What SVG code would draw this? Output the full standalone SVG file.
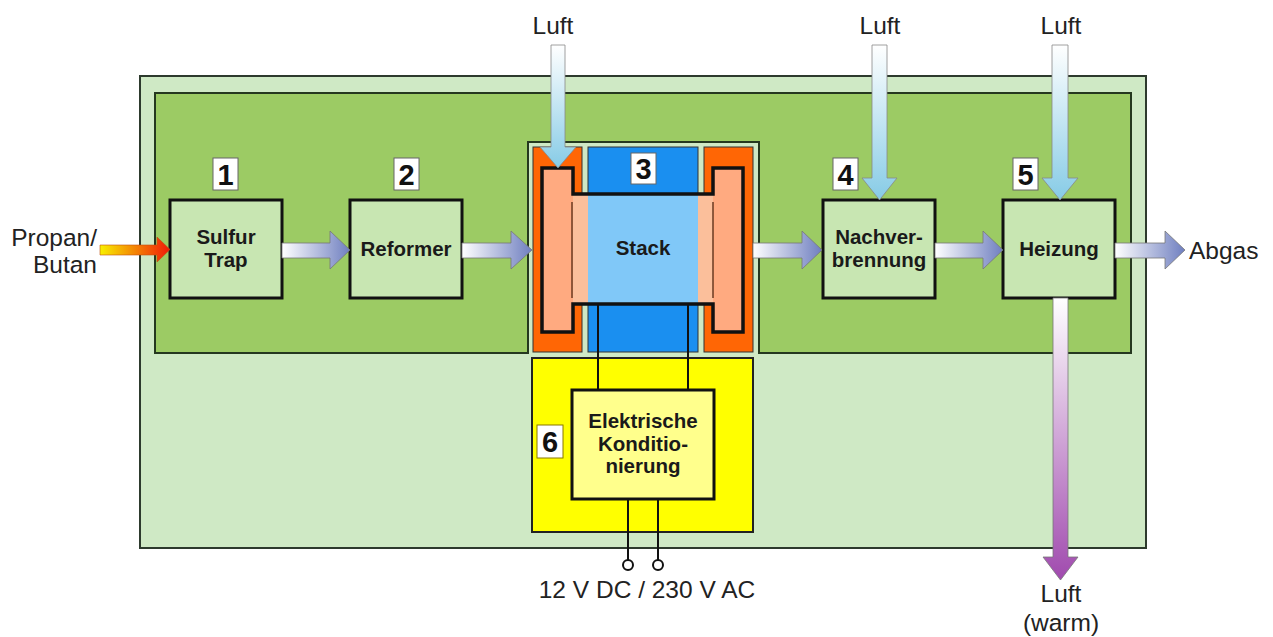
<svg xmlns="http://www.w3.org/2000/svg" width="1273" height="637" viewBox="0 0 1273 637">
<defs>
  <linearGradient id="gH" x1="0" y1="0" x2="1" y2="0">
    <stop offset="0" stop-color="#ffffff"/>
    <stop offset="1" stop-color="#6f7fc0"/>
  </linearGradient>
  <linearGradient id="gFuel" x1="0" y1="0" x2="1" y2="0">
    <stop offset="0" stop-color="#f8f000"/>
    <stop offset="1" stop-color="#f01808"/>
  </linearGradient>
  <linearGradient id="gAir" x1="0" y1="0" x2="0" y2="1">
    <stop offset="0" stop-color="#ffffff"/>
    <stop offset="1" stop-color="#86cbe6"/>
  </linearGradient>
  <linearGradient id="gWarm" x1="0" y1="0" x2="0" y2="1">
    <stop offset="0" stop-color="#ffffff"/>
    <stop offset="1" stop-color="#a04aae"/>
  </linearGradient>
  <style>
    .lbl{font-family:"Liberation Sans",Arial,sans-serif;font-size:24.5px;fill:#222}
    .bt{font-family:"Liberation Sans",Arial,sans-serif;font-size:20.5px;font-weight:bold;fill:#1a1a1a;text-anchor:middle}
    .num{font-family:"Liberation Sans",Arial,sans-serif;font-size:29px;font-weight:bold;fill:#111;text-anchor:middle}
    .nbox{fill:#ffffff;stroke:#666;stroke-width:1}
    .box{fill:#c8e6b2;stroke:#111;stroke-width:3}
    .arrH{fill:url(#gH);stroke:#777;stroke-width:0.8}
    .arrA{fill:url(#gAir);stroke:#888;stroke-width:0.8}
    .wire{stroke:#111;stroke-width:2;fill:none}
  </style>
</defs>

<g id="frame">
  <rect x="140" y="76" width="1006" height="472" fill="#cfe9c5" stroke="#2d3a2d" stroke-width="2"/>
  <path d="M155,93 H1131 V353 H759 V142 H528 V353 H155 Z" fill="#9ccb64" stroke="#25381f" stroke-width="2"/>
</g>

<g id="stack">
  <rect x="533" y="147" width="49" height="205" fill="#ff6605" stroke="#333" stroke-width="1"/>
  <rect x="704" y="147" width="49" height="205" fill="#ff6605" stroke="#333" stroke-width="1"/>
  <rect x="588" y="147" width="110" height="205" fill="#1a8ff0" stroke="#333" stroke-width="1"/>
  <rect x="542" y="168" width="31" height="164" fill="#ffaa80"/>
  <rect x="713" y="168" width="30" height="164" fill="#ffaa80"/>
  <rect x="573" y="194" width="15" height="110" fill="#fbbf9b"/>
  <rect x="698" y="194" width="15" height="110" fill="#fbbf9b"/>
  <rect x="588" y="194" width="110" height="110" fill="#80c8f8"/>
  <line x1="572" y1="202" x2="572" y2="298" stroke="#6a3a20" stroke-width="1.5"/>
  <line x1="713" y1="202" x2="713" y2="298" stroke="#6a3a20" stroke-width="1.5"/>
  <path d="M542,168 H573 V194 H713 V168 H743 V332 H713 V304 H573 V332 H542 Z" fill="none" stroke="#111" stroke-width="3.5"/>
  <rect class="nbox" x="631" y="153" width="25" height="31"/>
  <text class="num" x="643.5" y="179">3</text>
  <text class="bt" x="643" y="255">Stack</text>
</g>

<g id="n1">
  <rect class="box" x="170" y="200" width="112" height="98"/>
  <text class="bt" x="226" y="244">Sulfur</text>
  <text class="bt" x="226" y="267">Trap</text>
  <rect class="nbox" x="213" y="158" width="25" height="32"/>
  <text class="num" x="225.5" y="185">1</text>
</g>

<g id="n2">
  <rect class="box" x="350" y="200" width="112" height="98"/>
  <text class="bt" x="406" y="256">Reformer</text>
  <rect class="nbox" x="394" y="158" width="25" height="32"/>
  <text class="num" x="406.5" y="185">2</text>
</g>

<g id="n4">
  <rect class="box" x="823" y="200" width="112" height="98"/>
  <text class="bt" x="879" y="244">Nachver-</text>
  <text class="bt" x="879" y="267">brennung</text>
  <rect class="nbox" x="833" y="158" width="25" height="32"/>
  <text class="num" x="845.5" y="185">4</text>
</g>

<g id="n5">
  <rect class="box" x="1003" y="200" width="112" height="98"/>
  <text class="bt" x="1059" y="256">Heizung</text>
  <rect class="nbox" x="1013" y="158" width="25" height="32"/>
  <text class="num" x="1025.5" y="185">5</text>
</g>

<g id="n6">
  <rect x="532" y="358" width="221" height="174" fill="#ffff00" stroke="#222" stroke-width="2"/>
  <rect x="572" y="390" width="142" height="109" fill="#ffff8c" stroke="#111" stroke-width="3"/>
  <text class="bt" x="643" y="428">Elektrische</text>
  <text class="bt" x="643" y="451">Konditio-</text>
  <text class="bt" x="643" y="473">nierung</text>
  <rect class="nbox" x="537" y="425" width="26" height="33" style="stroke:#887700"/>
  <text class="num" x="550" y="452">6</text>
</g>

<g id="connectors">
  <line class="wire" x1="598" y1="304" x2="598" y2="390"/>
  <line class="wire" x1="688" y1="304" x2="688" y2="390"/>
  <line class="wire" x1="628" y1="499" x2="628" y2="560"/>
  <line class="wire" x1="658" y1="499" x2="658" y2="560"/>
  <circle cx="628" cy="565" r="5" fill="#fff" stroke="#111" stroke-width="2"/>
  <circle cx="658" cy="565" r="5" fill="#fff" stroke="#111" stroke-width="2"/>

  <path d="M100,245 H157 V237 L170,249.5 L157,262 V255 H100 Z" fill="url(#gFuel)" stroke="#c05010" stroke-width="0.6"/>

  <path class="arrH" d="M282,243 H330 V231 L350,250 L330,269 V258 H282 Z"/>
  <path class="arrH" d="M462,243 H511 V231 L532,250 L511,269 V258 H462 Z"/>
  <path class="arrH" d="M753,243 H802 V231 L822,250 L802,269 V258 H753 Z"/>
  <path class="arrH" d="M935,243 H983 V231 L1003,250 L983,269 V258 H935 Z"/>
  <path class="arrH" d="M1115,243 H1165 V231 L1185,250 L1165,269 V258 H1115 Z"/>

  <path class="arrA" d="M551,45 H565 V147 L576,147 L558,168 L540,147 L551,147 Z"/>
  <path class="arrA" d="M872,45 H887 V178 L897,178 L879.5,200 L862,178 L872,178 Z"/>
  <path class="arrA" d="M1052,45 H1068 V178 L1078,178 L1060,200 L1042,178 L1052,178 Z"/>

  <path d="M1053,298 H1068 V557 L1078,557 L1060.5,580 L1043,557 L1053,557 Z" fill="url(#gWarm)" stroke="#777" stroke-width="0.8"/>
</g>

<g id="labels">
  <text class="lbl" x="97" y="246" text-anchor="end">Propan/</text>
  <text class="lbl" x="97" y="273" text-anchor="end">Butan</text>
  <text class="lbl" x="1189" y="259">Abgas</text>
  <text class="lbl" x="553" y="34" text-anchor="middle">Luft</text>
  <text class="lbl" x="880" y="34" text-anchor="middle">Luft</text>
  <text class="lbl" x="1061" y="34" text-anchor="middle">Luft</text>
  <text class="lbl" x="1061" y="602" text-anchor="middle">Luft</text>
  <text class="lbl" x="1061" y="631" text-anchor="middle">(warm)</text>
  <text class="lbl" x="647" y="598" text-anchor="middle">12 V DC / 230 V AC</text>
</g>
</svg>
